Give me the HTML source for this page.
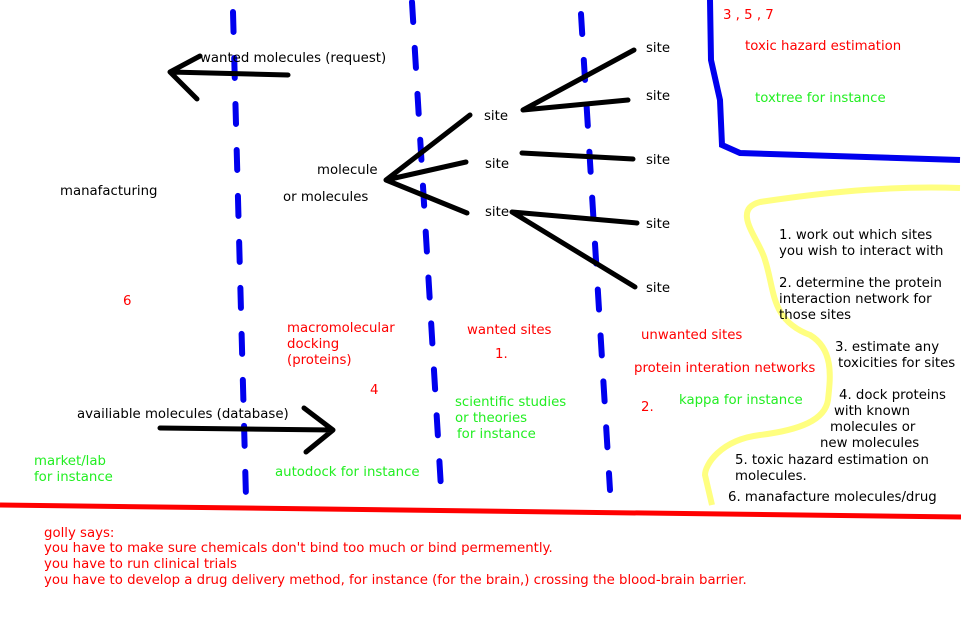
<!DOCTYPE html>
<html><head><meta charset="utf-8"><style>
html,body{margin:0;padding:0;background:#fff;width:961px;height:643px;overflow:hidden}
svg{display:block}
text{font-family:"DejaVu Sans","Liberation Sans",sans-serif;font-size:13.3px}
.k{fill:#000}.r{fill:#f00}.g{fill:#2e2}
</style></head><body>
<svg width="961" height="643" xmlns="http://www.w3.org/2000/svg">
<g stroke="#0000ee" stroke-width="6" stroke-dasharray="20 26" stroke-linecap="round" fill="none">
<path d="M233 12 L246 498"/>
<path d="M412 2 L441 488"/>
<path d="M581 14 L610 490"/>
</g>
<path d="M710 0 L711 60 L720 100 L722 145 L740 153 L960 160" stroke="#0000ee" stroke-width="6" fill="none"/>
<path d="M960 188 C900 186 840 190 760 202 C730 210 760 240 765 260 C775 290 770 320 810 335 C835 350 830 380 828 400 C825 420 800 430 760 435 C720 440 705 465 705 475 L712 505" stroke="#ffff80" stroke-width="6" fill="none"/>
<path d="M0 505 L961 517" stroke="#f00" stroke-width="5"/>
<g stroke="#000" stroke-width="5" fill="none" stroke-linecap="round">
<path d="M170 72 L288 75 M170 72 L200 56 M170 72 L197 99"/>
<path d="M160 428 L333 430 M333 430 L304 408 M333 430 L306 452"/>
<path d="M386 180 L470 115 M386 180 L466 162 M386 180 L467 213"/>
<path d="M523 110 L634 50 M523 110 L628 100"/>
<path d="M522 153 L633 159"/>
<path d="M512 212 L637 223 M512 212 L635 287"/>
</g>
<text x="200" y="62" class="k">wanted molecules (request)</text>
<text x="317" y="174" class="k">molecule</text>
<text x="283" y="201" class="k">or molecules</text>
<text x="60" y="195" class="k">manafacturing</text>
<text x="484" y="120" class="k">site</text>
<text x="485" y="168" class="k">site</text>
<text x="485" y="216" class="k">site</text>
<text x="646" y="52" class="k">site</text>
<text x="646" y="100" class="k">site</text>
<text x="646" y="164" class="k">site</text>
<text x="646" y="228" class="k">site</text>
<text x="646" y="292" class="k">site</text>
<text x="723" y="19" class="r">3 , 5  , 7</text>
<text x="745" y="50" class="r">toxic hazard estimation</text>
<text x="755" y="102" class="g">toxtree for instance</text>
<text x="123" y="305" class="r">6</text>
<text x="287" y="332" class="r">macromolecular</text>
<text x="287" y="348" class="r">docking</text>
<text x="287" y="364" class="r">(proteins)</text>
<text x="370" y="394" class="r">4</text>
<text x="467" y="334" class="r">wanted sites</text>
<text x="495" y="358" class="r">1.</text>
<text x="641" y="339" class="r">unwanted sites</text>
<text x="634" y="372" class="r">protein interation networks</text>
<text x="641" y="411" class="r">2.</text>
<text x="679" y="404" class="g">kappa for instance</text>
<text x="455" y="406" class="g">scientific studies</text>
<text x="455" y="422" class="g">or theories</text>
<text x="457" y="438" class="g">for instance</text>
<text x="77" y="418" class="k">availiable molecules (database)</text>
<text x="34" y="465" class="g">market/lab</text>
<text x="34" y="481" class="g">for instance</text>
<text x="275" y="476" class="g">autodock for instance</text>
<g class="k">
<text x="779" y="239">1. work out which sites</text>
<text x="779" y="255">you wish to interact with</text>
<text x="779" y="287">2. determine the protein</text>
<text x="779" y="303">interaction network for</text>
<text x="779" y="319">those sites</text>
<text x="835" y="351">3. estimate any</text>
<text x="838" y="367">toxicities for sites</text>
<text x="839" y="399">4. dock proteins</text>
<text x="834" y="415">with known</text>
<text x="830" y="431">molecules or</text>
<text x="820" y="447">new molecules</text>
<text x="735" y="464">5. toxic hazard estimation on</text>
<text x="735" y="480">molecules.</text>
<text x="728" y="501">6. manafacture molecules/drug</text>
</g>
<text x="44" y="537" class="r">golly says:</text>
<text x="44" y="552" class="r">you have to make sure chemicals don't bind too much or bind permemently.</text>
<text x="44" y="568" class="r">you have to run clinical trials</text>
<text x="44" y="584" class="r">you have to develop a drug delivery method, for instance (for the brain,) crossing the blood-brain barrier.</text>
</svg>
</body></html>
